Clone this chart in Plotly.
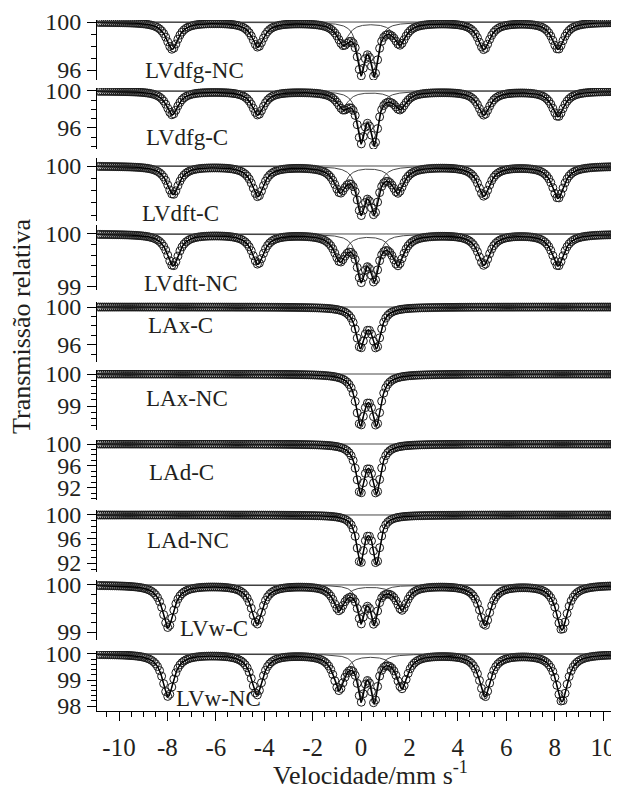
import numpy as np
import plotly.graph_objects as go

BASELINE = 100.0

panel_names = ["LVdfg-NC", "LVdfg-C", "LVdft-C", "LVdft-NC", "LAx-C",
               "LAx-NC", "LAd-C", "LAd-NC", "LVw-C", "LVw-NC"]

# x-axis ticks
x_tickvals = [-10, -8, -6, -4, -2, 0, 2, 4, 6, 8, 10]
x_ticktext = ["-10", "-8", "-6", "-4", "-2", "0", "2", "4", "6", "8", "10"]

# Line positions (mm/s)
sextet_pos_lvdfg = [-7.80, -4.26, -0.74, 1.61, 5.08, 8.14]
sextet_pos_lvdft = [-7.77, -4.26, -0.87, 1.53, 5.08, 8.14]
sextet_pos_lvw = [-7.97, -4.30, -0.91, 1.69, 5.12, 8.30]
doublet_pos_lv = [0.00, 0.55]
doublet_pos_la = [-0.03, 0.64]

# Line depths (% absorption)
sextet_depth_lvdfg_nc = [2.25, 2.05, 1.60, 1.70, 2.25, 2.25]
doublet_depth_lvdfg_nc = [3.75, 3.95]
sextet_depth_lvdfg_c = [2.55, 2.55, 1.60, 1.77, 2.55, 2.75]
doublet_depth_lvdfg_c = [4.85, 5.20]
sextet_depth_lvdft_c = [2.30, 2.45, 1.90, 1.95, 2.40, 2.60]
doublet_depth_lvdft_c = [3.30, 3.30]
sextet_depth_lvdft_nc = [0.60, 0.56, 0.46, 0.54, 0.58, 0.60]
doublet_depth_lvdft_nc = [0.75, 0.75]
doublet_depth_lax_c = [4.00, 4.00]
doublet_depth_lax_nc = [1.48, 1.48]
doublet_depth_lad_c = [8.45, 8.45]
doublet_depth_lad_nc = [7.70, 7.70]
sextet_depth_lvw_c = [0.90, 0.82, 0.50, 0.50, 0.85, 0.95]
doublet_depth_lvw_c = [0.70, 0.74]
sextet_depth_lvw_nc = [1.62, 1.55, 1.30, 1.25, 1.62, 1.82]
doublet_depth_lvw_nc = [1.55, 1.65]

# Half widths at half maximum (mm/s)
sextet_hwhm = [0.30, 0.30, 0.30, 0.30, None, None, None, None, 0.28, 0.28]
doublet_hwhm = [0.19, 0.19, 0.21, 0.21, 0.22, 0.22, 0.20, 0.18, 0.17, 0.17]

panel_sextet_pos = [sextet_pos_lvdfg, sextet_pos_lvdfg, sextet_pos_lvdft, sextet_pos_lvdft,
                    None, None, None, None, sextet_pos_lvw, sextet_pos_lvw]
panel_sextet_depth = [sextet_depth_lvdfg_nc, sextet_depth_lvdfg_c, sextet_depth_lvdft_c,
                      sextet_depth_lvdft_nc, None, None, None, None,
                      sextet_depth_lvw_c, sextet_depth_lvw_nc]
panel_doublet_pos = [doublet_pos_lv] * 4 + [doublet_pos_la] * 4 + [doublet_pos_lv] * 2
panel_doublet_depth = [doublet_depth_lvdfg_nc, doublet_depth_lvdfg_c, doublet_depth_lvdft_c,
                       doublet_depth_lvdft_nc, doublet_depth_lax_c, doublet_depth_lax_nc,
                       doublet_depth_lad_c, doublet_depth_lad_nc,
                       doublet_depth_lvw_c, doublet_depth_lvw_nc]

# ---------------- layout geometry (reference pixels) ----------------
OFF = 8                      # page body margin
W, H = 619 - OFF, 789 - OFF  # figure size so the page fits the window
ML, MR = 97 - OFF, 0
MT = 20 - OFF
BOTTOM = 711                 # reference pixel of x axis line
MB = 789 - BOTTOM
PW = W - ML - MR
PH = H - MT - MB
X_RANGE = [-10.91, 10.66]

# panel pixel extents (top, bottom), y ranges, major/minor tick steps
panel_px = [(20, 80), (88, 149), (158, 221), (225, 290), (302, 362),
            (370, 430), (440, 500), (510, 572), (580, 640), (651, 711)]
panel_range = [(95.17, 100.17), (93.73, 100.32), (95.53, 100.65), (98.94, 100.17),
               (94.2, 100.53), (98.25, 100.125), (89.8, 100.73), (90.5, 100.83),
               (98.83, 100.106), (97.81, 100.115)]
panel_dtick = [4, 4, 5, 1, 4, 1, 4, 4, 1, 1]
panel_minor = [1, 1, 1, 0.2, 1, 0.2, 1, 1, 0.2, 0.2]
label_px = [(194, 70), (187, 137), (180, 213), (191, 283), (180, 325),
            (187, 398), (181, 472), (188, 540), (214, 628), (218, 698)]

FONT = "Liberation Serif"
TXT = "#231f20"


def px_x(px):
    return (px - 97) / PW


def px_y(py):
    return (BOTTOM - py) / PH


def absorption(v, pos, depth, hwhm):
    out = np.zeros_like(v)
    if pos is None:
        return out
    for p, d in zip(pos, depth):
        out += d / (1.0 + ((v - p) / hwhm) ** 2)
    return out


v_chan = np.linspace(-10.85, 10.62, 256)
v_fine = np.linspace(X_RANGE[0], X_RANGE[1], 1500)

fig = go.Figure()
layout = dict(width=W, height=H, margin=dict(l=ML, r=MR, t=MT, b=MB, pad=0),
              paper_bgcolor="white", plot_bgcolor="white", showlegend=False,
              font=dict(family=FONT, color=TXT))

for i in range(10):
    yname = "y" if i == 0 else f"y{i+1}"
    ykey = "yaxis" if i == 0 else f"yaxis{i+1}"
    sp, sd, sw = panel_sextet_pos[i], panel_sextet_depth[i], sextet_hwhm[i]
    dp, dd, dw = panel_doublet_pos[i], panel_doublet_depth[i], doublet_hwhm[i]

    pts = BASELINE - absorption(v_chan, sp, sd, sw) - absorption(v_chan, dp, dd, dw)
    fig.add_trace(go.Scatter(x=v_chan, y=pts, mode="markers", xaxis="x", yaxis=yname,
                             marker=dict(symbol="circle-open", size=8, color="#1a1a1a",
                                         line=dict(width=1, color="#1a1a1a")),
                             hoverinfo="skip"))
    if sp is not None:
        fig.add_trace(go.Scatter(x=v_fine, y=BASELINE - absorption(v_fine, sp, sd, sw),
                                 mode="lines", xaxis="x", yaxis=yname,
                                 line=dict(color="#333", width=0.9), hoverinfo="skip"))
    fig.add_trace(go.Scatter(x=v_fine, y=BASELINE - absorption(v_fine, dp, dd, dw),
                             mode="lines", xaxis="x", yaxis=yname,
                             line=dict(color="#333", width=0.9), hoverinfo="skip"))
    fig.add_trace(go.Scatter(x=v_fine, y=BASELINE - absorption(v_fine, sp, sd, sw)
                             - absorption(v_fine, dp, dd, dw),
                             mode="lines", xaxis="x", yaxis=yname,
                             line=dict(color="black", width=1.4), hoverinfo="skip"))
    fig.add_trace(go.Scatter(x=X_RANGE, y=[BASELINE, BASELINE], mode="lines",
                             xaxis="x", yaxis=yname,
                             line=dict(color="#333", width=0.9), hoverinfo="skip"))

    top, bot = panel_px[i]
    layout[ykey] = dict(
        domain=[px_y(bot), px_y(top)],
        range=list(panel_range[i]), anchor="x",
        showline=True, linecolor="black", linewidth=1,
        ticks="outside", ticklen=9, tickwidth=1, tickcolor="black",
        tickmode="linear", tick0=100, dtick=panel_dtick[i],
        minor=dict(ticks="outside", ticklen=5, tickwidth=1, tickcolor="black",
                   tickmode="linear", tick0=100, dtick=panel_minor[i]),
        showgrid=False, zeroline=False, ticklabelstandoff=1,
        tickfont=dict(family=FONT, size=24, color=TXT),
    )

layout["xaxis"] = dict(
    range=X_RANGE, anchor="y10", showline=True, linecolor="black", linewidth=1,
    tickmode="array", tickvals=x_tickvals, ticktext=x_ticktext,
    ticks="outside", ticklen=9, tickwidth=1, tickcolor="black",
    minor=dict(ticks="outside", ticklen=5, tickwidth=1, tickcolor="black",
               tickmode="linear", tick0=0, dtick=0.5),
    showgrid=False, zeroline=False, ticklabelstandoff=5,
    tickfont=dict(family=FONT, size=25, color=TXT),
)

annotations = []
for name, (px, py) in zip(panel_names, label_px):
    annotations.append(dict(text=name, xref="paper", yref="paper",
                            x=px_x(px), y=px_y(py),
                            xanchor="center", yanchor="middle", showarrow=False,
                            font=dict(family=FONT, size=23, color=TXT)))
annotations.append(dict(text="Transmissão relativa", xref="paper", yref="paper",
                        x=px_x(22), y=px_y(327), textangle=-90,
                        xanchor="center", yanchor="middle", showarrow=False,
                        font=dict(family=FONT, size=26, color=TXT)))
annotations.append(dict(text="Velocidade/mm s<sup>-1</sup>", xref="paper", yref="paper",
                        x=px_x(370), y=px_y(773),
                        xanchor="center", yanchor="middle", showarrow=False,
                        font=dict(family=FONT, size=26, color=TXT)))
layout["annotations"] = annotations

fig.update_layout(**layout)
fig.write_html("out.html")
